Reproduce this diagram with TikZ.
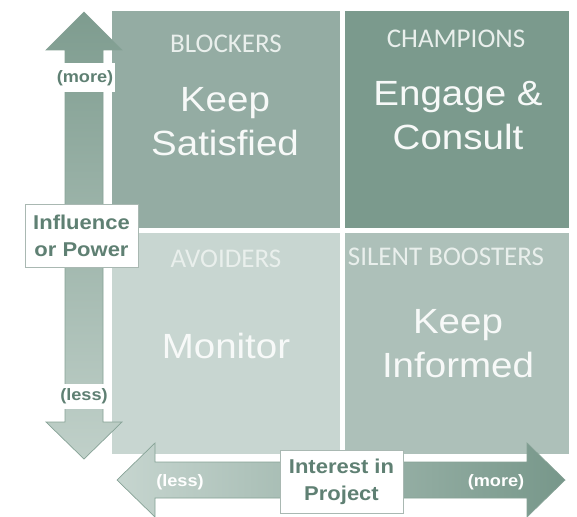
\documentclass[tikz,border=0pt]{standalone}
\usepackage{fontspec}
\setmainfont{Liberation Sans}
\newfontfamily\quadfont[FakeStretch=1.1]{Liberation Sans}
\newfontfamily\capsfont{Carlito}
\newfontfamily\lblfont[FakeStretch=1.1]{Liberation Sans Bold}
\definecolor{tlc}{HTML}{94ACA3}
\definecolor{trc}{HTML}{7B9A8D}
\definecolor{blc}{HTML}{C8D6D1}
\definecolor{brc}{HTML}{ADC0B9}
\definecolor{vtop}{HTML}{7E9C8F}
\definecolor{vbot}{HTML}{C0D0C9}
\definecolor{hleft}{HTML}{C6D5CF}
\definecolor{hright}{HTML}{77978A}
\definecolor{arrline}{HTML}{86A296}
\definecolor{lblc}{HTML}{5F8073}
\definecolor{boxline}{HTML}{A9B8B2}
\definecolor{titlec}{HTML}{E9EFEC}
\definecolor{bigc}{HTML}{F7F9F8}
\begin{document}
\begin{tikzpicture}[x=1pt,y=-1pt,
  quadbox/.style={rectangle, inner sep=0pt, draw=none},
  titletext/.style={inner sep=0pt, anchor=base, text=titlec, font=\capsfont\fontsize{27}{30}\selectfont},
  bigtext/.style={inner sep=0pt, align=center, text=bigc, font=\quadfont\fontsize{35}{44}\selectfont},
  lblbox/.style={rectangle, fill=white, inner sep=0pt, text=lblc, font=\lblfont\fontsize{16.5}{20}\selectfont},
  axisbox/.style={rectangle, fill=white, draw=boxline, line width=0.8pt, inner sep=0pt, align=center, text=lblc, font=\lblfont\fontsize{20}{27}\selectfont},
  arrowtext/.style={inner sep=0pt, text=white, font=\lblfont\fontsize{16.5}{20}\selectfont},
  arrowshape/.style={draw=arrline, line width=0.7pt}
]
\fill[white] (0,0) rectangle (577,516);
\useasboundingbox (0,0) rectangle (577,516);

% quadrants
\node[quadbox, fill=tlc, minimum width=228pt, minimum height=217pt] (blockers) at (226,119.5) {};
\node[quadbox, fill=trc, minimum width=224pt, minimum height=217pt] (champions) at (457,119.5) {};
\node[quadbox, fill=blc, minimum width=228pt, minimum height=221pt] (avoiders) at (226,343.5) {};
\node[quadbox, fill=brc, minimum width=224pt, minimum height=221pt] (boosters) at (457,343.5) {};

% quadrant titles
\node[titletext] (tblock) at (226,53) {BLOCKERS};
\node[titletext] (tchamp) at (456,48) {CHAMPIONS};
\node[titletext] (tavoid) at (226,267) {AVOIDERS};
\node[titletext] (tboost) at (446,265) {SILENT BOOSTERS};

% quadrant actions
\node[bigtext] (keepsat) at (225,121.5) {Keep\\Satisfied};
\node[bigtext] (engage) at (458,116) {Engage \&\\Consult};
\node[bigtext, anchor=base] (monitor) at (226,358) {Monitor};
\node[bigtext] (keepinf) at (458,344) {Keep\\Informed};

% vertical double arrow
\shadedraw[arrowshape, top color=vtop, bottom color=vbot]
  (84,12) -- (122,50) -- (103,50) -- (103,422) -- (122,422) -- (84,459)
  -- (46,422) -- (65,422) -- (65,50) -- (46,50) -- cycle;

% horizontal double arrow
\shadedraw[arrowshape, left color=hleft, right color=hright]
  (117,480) -- (155,443) -- (155,462) -- (527,462) -- (527,443) -- (565,480)
  -- (527,517) -- (527,498) -- (155,498) -- (155,517) -- cycle;

% labels
\node[lblbox, minimum width=60pt, minimum height=29pt] (morev) at (85,78) {(more)};
\node[lblbox, minimum width=48pt, minimum height=25pt] (lessv) at (84,396) {(less)};
\node[axisbox, minimum width=113pt, minimum height=63pt] (influence) at (81.5,235.5) {Influence\\or Power};
\node[axisbox, minimum width=123pt, minimum height=63pt] (interest) at (341.5,481.5) {Interest in\\Project};
\node[arrowtext] (lessh) at (180,482) {(less)};
\node[arrowtext] (moreh) at (496,482) {(more)};
\end{tikzpicture}
\end{document}
